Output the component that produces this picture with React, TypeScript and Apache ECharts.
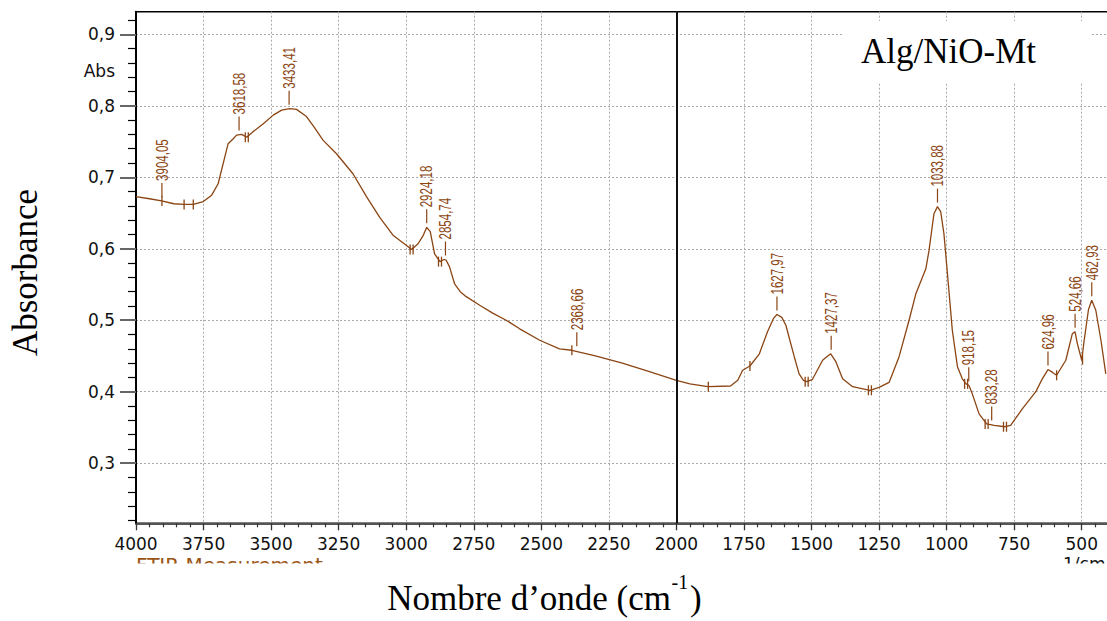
import React, { useEffect, useRef } from "react";
import * as echarts from "echarts";

// Spectrum (wavenumber in cm-1, absorbance)
const wavenumbers = [4000, 3950, 3905, 3860, 3822, 3788, 3751, 3720, 3696, 3671, 3659, 3640, 3628, 3609, 3590, 3566, 3529, 3492, 3461, 3431, 3406, 3369, 3340, 3308, 3258, 3197, 3147, 3098, 3049, 3000, 2980, 2956, 2938, 2924, 2911, 2895, 2875, 2860, 2852, 2840, 2821, 2800, 2778, 2728, 2680, 2630, 2580, 2506, 2433, 2387, 2300, 2200, 2100, 2000, 1950, 1884, 1800, 1773, 1755, 1728, 1693, 1663, 1640, 1628, 1610, 1595, 1564, 1546, 1530, 1518, 1497, 1459, 1440, 1429, 1410, 1385, 1348, 1284, 1250, 1213, 1176, 1139, 1114, 1077, 1065, 1047, 1034, 1022, 1010, 997, 979, 960, 942, 928, 918, 905, 880, 852, 824, 784, 763, 720, 670, 646, 625, 608, 593, 559, 535, 525, 516, 500, 491, 475, 463, 448, 429, 411];
const absorbance = [0.673, 0.670, 0.667, 0.663, 0.662, 0.662, 0.666, 0.675, 0.691, 0.729, 0.747, 0.754, 0.759, 0.760, 0.756, 0.764, 0.775, 0.787, 0.794, 0.796, 0.795, 0.785, 0.770, 0.752, 0.733, 0.705, 0.673, 0.644, 0.619, 0.605, 0.599, 0.607, 0.618, 0.630, 0.624, 0.593, 0.582, 0.585, 0.584, 0.575, 0.551, 0.540, 0.533, 0.521, 0.510, 0.500, 0.488, 0.472, 0.460, 0.458, 0.450, 0.440, 0.428, 0.416, 0.411, 0.407, 0.408, 0.416, 0.430, 0.436, 0.453, 0.484, 0.503, 0.508, 0.504, 0.493, 0.449, 0.425, 0.416, 0.414, 0.417, 0.444, 0.450, 0.453, 0.442, 0.418, 0.407, 0.402, 0.406, 0.413, 0.449, 0.500, 0.537, 0.572, 0.598, 0.649, 0.659, 0.652, 0.621, 0.565, 0.486, 0.435, 0.418, 0.411, 0.409, 0.397, 0.369, 0.355, 0.353, 0.351, 0.353, 0.376, 0.400, 0.418, 0.431, 0.427, 0.423, 0.444, 0.481, 0.484, 0.467, 0.444, 0.472, 0.515, 0.528, 0.514, 0.472, 0.425];

// Peak annotations
const peakWn = [3904.05, 3618.58, 3433.41, 2924.18, 2854.74, 2368.66, 1627.97, 1427.37, 1033.88, 918.15, 833.28, 624.96, 524.66, 462.93];
const peakAbs = [0.667, 0.760, 0.796, 0.630, 0.585, 0.458, 0.508, 0.453, 0.659, 0.409, 0.354, 0.431, 0.484, 0.528];
const peakLabels = ["3904,05", "3618,58", "3433,41", "2924,18", "2854,74", "2368,66", "1627,97", "1427,37", "1033,88", "918,15", "833,28", "624,96", "524,66", "462,93"];

// Baseline tick markers on the curve
const markerWn = [3904, 3822, 3788, 3590, 2980, 2875, 2387, 1882, 1728, 1518, 1284, 928, 852, 784, 593, 497];
const markerAbs = [0.667, 0.662, 0.662, 0.756, 0.599, 0.582, 0.458, 0.407, 0.436, 0.414, 0.402, 0.411, 0.355, 0.351, 0.423, 0.445];
const markerDouble = [0, 0, 0, 1, 1, 1, 0, 0, 0, 1, 1, 1, 1, 1, 0, 0];

// Axis ticks
const yMajorTicks = [0.3, 0.4, 0.5, 0.6, 0.7, 0.8, 0.9];
const yMinorTicks = [0.22, 0.24, 0.26, 0.28, 0.32, 0.34, 0.36, 0.38, 0.42, 0.44, 0.46, 0.48, 0.52, 0.54, 0.56, 0.58, 0.62, 0.64, 0.66, 0.68, 0.72, 0.74, 0.76, 0.78, 0.82, 0.84, 0.86, 0.88, 0.92];

const BROWN = "#8B4513";

export default function App() {
  const ref = useRef<HTMLDivElement>(null);

  useEffect(() => {
    if (!ref.current) return;
    const chart = echarts.init(ref.current, null, { renderer: "svg" });
    const spectrum = wavenumbers.map((w, i) => [w, absorbance[i]]);
    const peaks = peakWn.map((w, i) => [w, peakAbs[i]]);
    const markers = markerWn.map((w, i) => [w, markerAbs[i], markerDouble[i]]);
    const yMin = 0.2159;
    const yMax = 0.9317;

    chart.setOption({
      animation: false,
      backgroundColor: "#ffffff",
      grid: {
        left: 136,
        top: 11.7,
        width: 1013.3,
        height: 511.6,
        show: true,
        borderColor: "#000",
        borderWidth: 1.5,
        backgroundColor: "transparent",
        containLabel: false,
      },
      xAxis: {
        type: "value",
        inverse: true,
        min: 250,
        max: 4000,
        interval: 250,
        axisLine: { show: true, onZero: false, lineStyle: { color: "#555", width: 2 } },
        axisTick: { show: true, inside: false, length: 7, lineStyle: { color: "#333", width: 1.3 } },
        minorTick: { show: true, splitNumber: 5, length: 4, lineStyle: { color: "#333", width: 1.2 } },
        axisLabel: {
          formatter: (v: number) => (v === 250 ? "" : String(v)),
          fontFamily: "DejaVu Sans",
          fontSize: 17,
          color: "#111",
          margin: 12,
        },
        splitLine: { show: true, lineStyle: { color: "#aaa", type: [2, 2], width: 1 } },
      },
      yAxis: [
        {
          type: "value",
          min: yMin,
          max: yMax,
          position: "left",
          axisLine: { show: true, onZero: false, lineStyle: { color: "#000", width: 2 } },
          axisTick: { show: true, inside: false, length: 16, customValues: yMajorTicks, lineStyle: { color: "#666", width: 2 } },
          axisLabel: {
            customValues: yMajorTicks,
            formatter: (v: number) => v.toFixed(1).replace(".", ","),
            fontFamily: "DejaVu Sans",
            fontSize: 17,
            color: "#111",
            margin: 21,
          },
          splitLine: { show: true, lineStyle: { color: "#aaa", type: [2, 2], width: 1 } },
        },
        {
          type: "value",
          min: yMin,
          max: yMax,
          position: "left",
          axisLine: { show: false },
          axisTick: { show: true, inside: false, length: 8, customValues: yMinorTicks, lineStyle: { color: "#000", width: 1.2 } },
          axisLabel: { show: false },
          splitLine: { show: false },
        },
      ],
      series: [
        {
          type: "line",
          data: spectrum,
          showSymbol: false,
          symbol: "none",
          smooth: false,
          lineStyle: { color: BROWN, width: 1.3 },
          z: 3,
          markLine: {
            silent: true,
            symbol: ["none", "none"],
            label: { show: false },
            lineStyle: { color: "#111", width: 2, type: "solid" },
            data: [{ xAxis: 2000 }],
          },
        },
        {
          type: "custom",
          data: peaks,
          z: 4,
          renderItem: (params: any, api: any) => {
            const p = api.coord([api.value(0), api.value(1)]);
            const idx = params.dataIndex;
            return {
              type: "group",
              children: [
                {
                  type: "line",
                  shape: { x1: p[0], y1: p[1] - 4, x2: p[0], y2: p[1] - 18 },
                  style: { stroke: BROWN, lineWidth: 1.2 },
                },
                {
                  type: "text",
                  x: p[0],
                  y: p[1] - 20,
                  rotation: Math.PI / 2,
                  scaleX: 0.72,
                  style: {
                    text: peakLabels[idx],
                    fill: BROWN,
                    font: '16px "Liberation Sans", Arial, sans-serif',
                    align: "left",
                    verticalAlign: "middle",
                  },
                },
              ],
            };
          },
        },
        {
          type: "custom",
          data: markers,
          z: 4,
          renderItem: (params: any, api: any) => {
            const p = api.coord([api.value(0), api.value(1)]);
            const dbl = api.value(2) === 1;
            const h = 5;
            const xs = dbl ? [p[0] - 1.5, p[0] + 1.5] : [p[0]];
            return {
              type: "group",
              children: xs.map((x: number) => ({
                type: "line",
                shape: { x1: x, y1: p[1] - h, x2: x, y2: p[1] + h },
                style: { stroke: BROWN, lineWidth: 1.3 },
              })),
            };
          },
        },
      ],
      graphic: [
        { type: "rect", z: 5, shape: { x: 842, y: 21, width: 250, height: 61 }, style: { fill: "#fff" } },
        {
          type: "text", z: 6, x: 861, y: 51.7,
          style: { text: "Alg/NiO-Mt", fill: "#000", font: '35px "Liberation Serif", "Times New Roman", serif', align: "left", verticalAlign: "middle" },
        },
        {
          type: "text", z: 6, x: 115, y: 70.7,
          style: { text: "Abs", fill: "#111", font: '17px "DejaVu Sans", sans-serif', align: "right", verticalAlign: "middle" },
        },
        {
          type: "text", z: 6, x: 25.5, y: 272.5, rotation: Math.PI / 2,
          style: { text: "Absorbance", fill: "#000", font: '35px "Liberation Serif", "Times New Roman", serif', align: "center", verticalAlign: "middle" },
        },
        {
          type: "text", z: 6, x: 136, y: 565.4,
          style: { text: "FTIR Measurement", fill: "#9a5514", font: '20px "DejaVu Sans", sans-serif', align: "left", verticalAlign: "middle" },
        },
        {
          type: "text", z: 6, x: 1063, y: 564.3,
          style: { text: "1/cm", fill: "#111", font: '17px "DejaVu Sans", sans-serif', align: "left", verticalAlign: "middle" },
        },
        { type: "rect", z: 20, shape: { x: 0, y: 563.5, width: 1200, height: 70 }, style: { fill: "#fff" } },
        {
          type: "text", z: 30, x: 671, y: 598,
          style: { text: "Nombre d’onde (cm", fill: "#000", font: '35px "Liberation Serif", "Times New Roman", serif', align: "right", verticalAlign: "middle" },
        },
        {
          type: "text", z: 30, x: 671.5, y: 581.7,
          style: { text: "-1", fill: "#000", font: '20px "Liberation Serif", "Times New Roman", serif', align: "left", verticalAlign: "middle" },
        },
        {
          type: "text", z: 30, x: 690, y: 598,
          style: { text: ")", fill: "#000", font: '35px "Liberation Serif", "Times New Roman", serif', align: "left", verticalAlign: "middle" },
        },
      ],
    });

    return () => chart.dispose();
  }, []);

  return (
    <div style={{ position: "fixed", left: 0, top: 0, width: 1107, height: 621, overflow: "hidden", background: "#fff" }}>
      <div ref={ref} style={{ width: 1200, height: 621 }} />
    </div>
  );
}
